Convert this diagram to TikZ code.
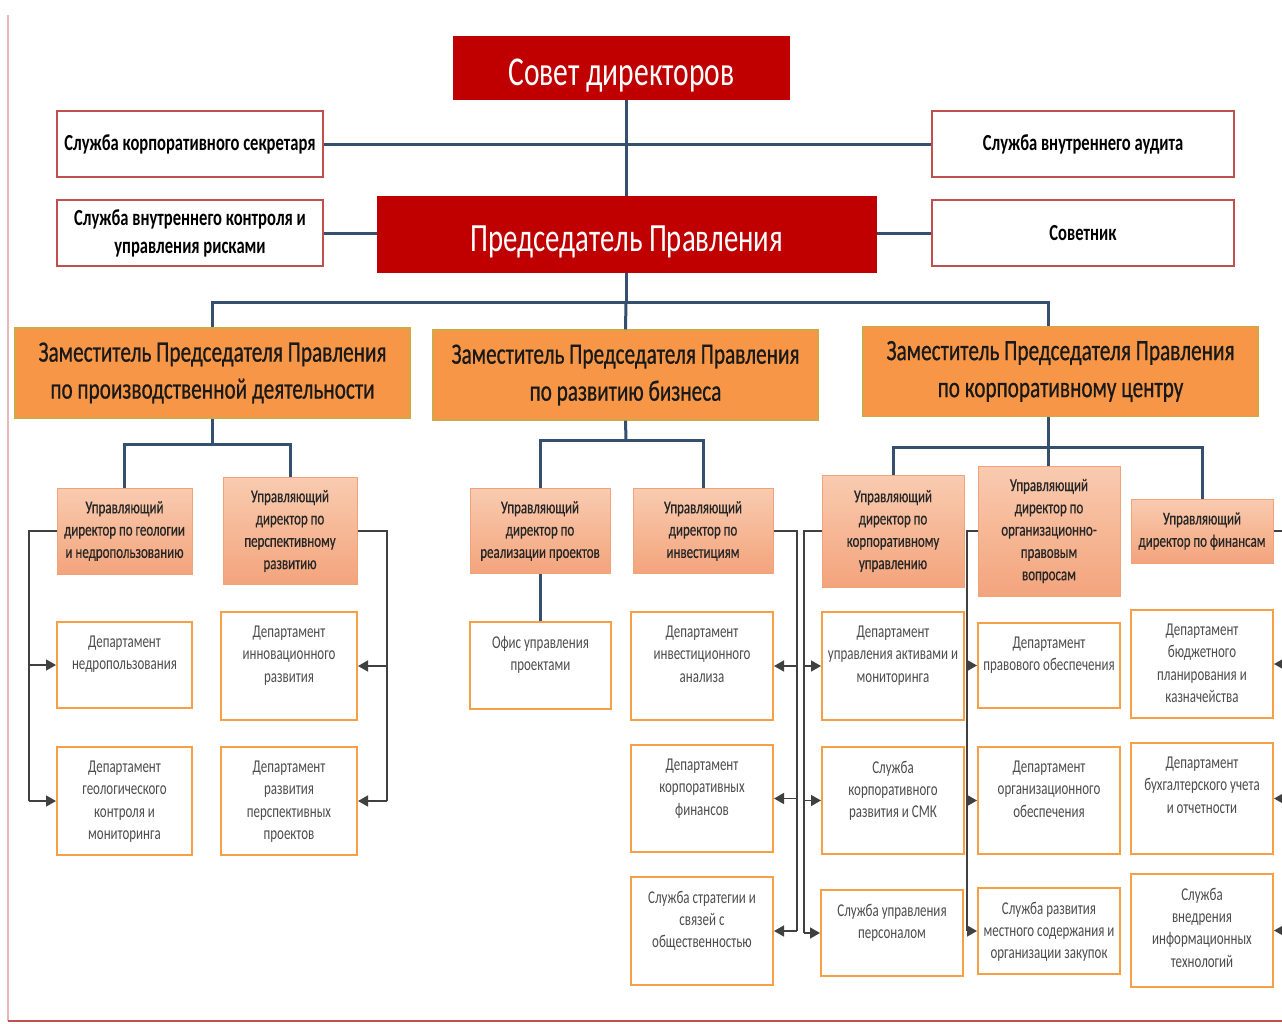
\documentclass[tikz,border=0pt]{standalone}
\usepackage{fontspec}
\setmainfont{Carlito}[FakeStretch=0.72]
\usetikzlibrary{arrows.meta}

\definecolor{boardred}{HTML}{C00000}
\definecolor{edgered}{HTML}{C0504D}
\definecolor{deputyfill}{HTML}{F79646}
\definecolor{deputyedge}{HTML}{D0A848}
\definecolor{mgrtop}{HTML}{F9CBB0}
\definecolor{mgrbot}{HTML}{F3A47C}
\definecolor{mgredge}{HTML}{F2A27A}
\definecolor{deptedge}{HTML}{F5A046}
\definecolor{linkblue}{HTML}{34506E}
\definecolor{feedgray}{HTML}{404040}
\definecolor{txtgray}{HTML}{4D4D4D}

% text of a department box starts at the top
\newcommand{\toptxt}[3]{\parbox[c][#2pt][t]{#1pt}{\centering\vspace*{14pt}#3}}

\begin{document}
\begin{tikzpicture}[x=1pt,y=-1pt,
  board/.style={fill=boardred, text=white, text height=41pt, text depth=7pt, font=\fontsize{41}{48}\selectfont},
  staff/.style={draw=edgered, line width=2pt, fill=white, minimum width=266, minimum height=66, align=center, font=\bfseries\fontsize{23}{28}\selectfont},
  deputy/.style={fill=deputyfill, draw=deputyedge, line width=1.2pt, minimum width=395, minimum height=90, align=center, text=black!90, font=\fontsize{29.5}{37}\selectfont\addfontfeatures{FakeBold=0.6}},
  mgr/.style={top color=mgrtop, bottom color=mgrbot, draw=mgredge, line width=1pt, align=center, text=black!85, font=\fontsize{18}{22.3}\selectfont\addfontfeatures{FakeBold=0.5}},
  dept/.style={draw=deptedge, line width=2pt, fill=white, inner sep=0pt, text=txtgray, font=\fontsize{18}{22.3}\selectfont},
  link/.style={draw=linkblue, line width=3pt},
  feed/.style={draw=feedgray, line width=1.5pt},
  tip/.style={feed, -{Triangle[length=10pt,width=11pt]}}
]
\useasboundingbox (0,0) rectangle (1282,1023);
\draw[draw=edgered!40, line width=2pt] (8,15) -- (8,1021);
\draw[draw=edgered, line width=2.5pt] (8,1021) -- (1282,1021);

% top
\node[board, minimum width=337, minimum height=64] (council) at (621.5,68) {Совет директоров};
\node[board, minimum width=500, minimum height=77, font=\fontsize{40}{48}\selectfont] (chair) at (627,234.5) {Председатель Правления};
\node[staff] (sec) at (190,144) {Служба корпоративного секретаря};
\node[staff, minimum width=302] (audit) at (1083,144) {Служба внутреннего аудита};
\node[staff] (risk) at (190,233) {Служба внутреннего контроля и\\управления рисками};
\node[staff, minimum width=302] (adv) at (1083,233) {Советник};

% deputies
\node[deputy] (depA) at (212.5,373) {Заместитель Председателя Правления\\по производственной деятельности};
\node[deputy, minimum width=385] (depB) at (625.5,375) {Заместитель Председателя Правления\\по развитию бизнеса};
\node[deputy] (depC) at (1060.5,371.5) {Заместитель Председателя Правления\\по корпоративному центру};

% managing directors
\node[mgr, minimum width=135, minimum height=86] (geo) at (124.5,531) {Управляющий\\директор по геологии\\и недропользованию};
\node[mgr, minimum width=134, minimum height=107] (persp) at (290,531) {Управляющий\\директор по\\перспективному\\развитию};
\node[mgr, minimum width=140, minimum height=85] (impl) at (540,531) {Управляющий\\директор по\\реализации проектов};
\node[mgr, minimum width=140, minimum height=85] (inv) at (703,531) {Управляющий\\директор по\\инвестициям};
\node[mgr, minimum width=142, minimum height=112] (corp) at (893,531) {Управляющий\\директор по\\корпоративному\\управлению};
\node[mgr, minimum width=142, minimum height=130] (legal) at (1049,531) {Управляющий\\директор по\\организационно-\\правовым\\вопросам};
\node[mgr, minimum width=142, minimum height=64] (fin) at (1202,531) {Управляющий\\директор по финансам};

% departments
\node[dept] (l1) at (124.5,665) {\toptxt{135}{86}{Департамент\\недропользования}};
\node[dept] (l2) at (124.5,801) {\toptxt{135}{108}{Департамент\\геологического\\контроля и\\мониторинга}};
\node[dept] (l3) at (289,666) {\toptxt{136}{108}{Департамент\\инновационного\\развития}};
\node[dept] (l4) at (289,801) {\toptxt{136}{108}{Департамент\\развития\\перспективных\\проектов}};
\node[dept] (office) at (540.5,665.5) {\toptxt{141}{87}{Офис управления\\проектами}};
\node[dept] (i1) at (702,666) {\toptxt{142}{108}{Департамент\\инвестиционного\\анализа}};
\node[dept] (i2) at (702,798.5) {\toptxt{142}{107}{Департамент\\корпоративных\\финансов}};
\node[dept] (i3) at (702,931) {\toptxt{142}{108}{Служба стратегии и\\связей с\\общественностью}};
\node[dept] (c1) at (893,666) {\toptxt{142}{108}{Департамент\\управления активами и\\мониторинга}};
\node[dept] (c2) at (893,800.5) {\toptxt{142}{107}{Служба\\корпоративного\\развития и СМК}};
\node[dept] (c3) at (892,933) {\toptxt{142}{86}{Служба управления\\персоналом}};
\node[dept] (o1) at (1049,665.5) {\toptxt{142}{85}{Департамент\\правового обеспечения}};
\node[dept] (o2) at (1049,800.5) {\toptxt{142}{107}{Департамент\\организационного\\обеспечения}};
\node[dept] (o3) at (1049,931) {\toptxt{142}{86}{Служба развития\\местного содержания и\\организации закупок}};
\node[dept] (f1) at (1202,664) {\toptxt{142}{108}{Департамент\\бюджетного\\планирования и\\казначейства}};
\node[dept] (f2) at (1202,798.5) {\toptxt{142}{111}{Департамент\\бухгалтерского учета\\и отчетности}};
\node[dept] (f3) at (1202,930.5) {\toptxt{142}{113}{Служба\\внедрения\\информационных\\технологий}};

% main lines
\coordinate (spine) at (626,302);
\draw[link] (council.south -| spine) -- (chair.north -| spine);
\draw[link] (chair.south -| spine) -- (spine);
\draw[link] (sec.east) -- (audit.west);
\draw[link] (risk.east) -- (risk.east -| chair.west);
\draw[link] (adv.west -| chair.east) -- (adv.west);
\draw[link] (depA.north) |- (spine) -| (1048,326);
\draw[link] (spine) -- (depB.north);

\coordinate (busA) at (212,444);
\coordinate (busB) at (626,440);
\coordinate (busC) at (1048,447);
\draw[link] (busA |- depA.south) -- (busA);
\draw[link] (geo.north) |- (busA) -| (persp.north);
\draw[link] (depB.south) -- (busB);
\draw[link] (impl.north) |- (busB) -| (inv.north);
\draw[link] (impl.south) -- (impl.south |- office.north);
\draw[link] (busC |- depC.south) -- (busC);
\draw[link] (corp.north) |- (busC) -| (fin.north);
\draw[link] (busC) -- (busC |- legal.north);

% side feeds with arrows
\coordinate (geoX) at (29,531);
\draw[feed] (geo.west) -- (geoX) -- (geoX |- l2.west);
\foreach \d in {l1,l2}
  \draw[tip] (geoX |- \d.west) -- (\d.west);
\coordinate (perX) at (387,531);
\draw[feed] (persp.east) -- (perX) -- (perX |- l4.east);
\foreach \d in {l3,l4}
  \draw[tip] (perX |- \d.east) -- (\d.east);
\coordinate (invX) at (797,531);
\draw[feed] (inv.east) -- (invX) -- (invX |- i3.east);
\foreach \d in {i1,i2,i3}
  \draw[tip] (invX |- \d.east) -- (\d.east);
\coordinate (corX) at (804,531);
\draw[feed] (corp.west) -- (corX) -- (corX |- c3.west);
\foreach \d in {c1,c2,c3}
  \draw[tip] (corX |- \d.west) -- (\d.west);
\coordinate (legX) at (967,531);
\draw[feed] (legal.west) -- (legX) -- (legX |- o3.west);
\foreach \d in {o1,o2,o3}
  \draw[tip] (legX |- \d.west) -- (\d.west);
\coordinate (finX) at (1296,531);
\draw[feed] (fin.east) -- (finX) -- (finX |- f3.east);
\foreach \d in {f1,f2,f3}
  \draw[tip] (finX |- \d.east) -- (\d.east);
\end{tikzpicture}
\end{document}
